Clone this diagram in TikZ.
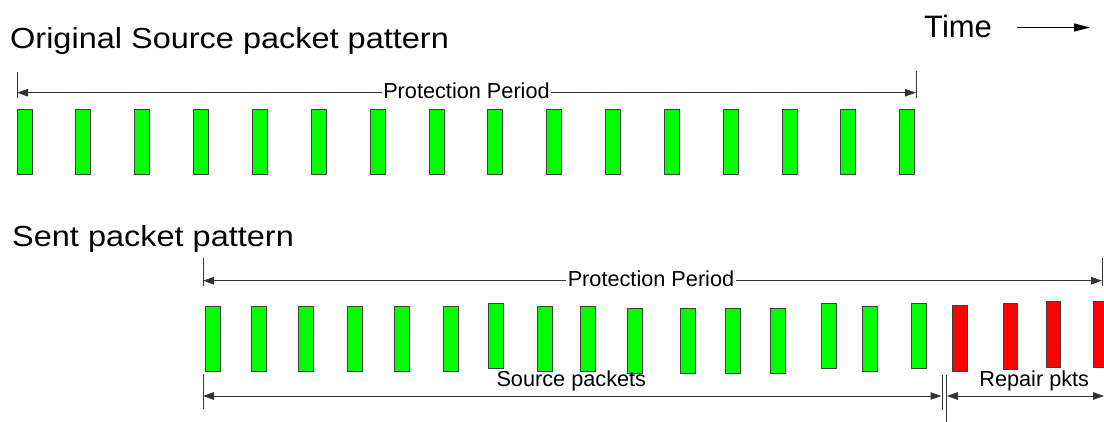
\documentclass[tikz,border=0pt]{standalone}
\usepackage{fontspec}
\setmainfont{Liberation Sans}
\usetikzlibrary{arrows.meta}
\begin{document}
\begin{tikzpicture}[x=1pt,y=-1pt,
  bar/.style={draw=black!75, line width=0.9pt, minimum width=15pt, minimum height=65pt, inner sep=0pt, outer sep=0pt, anchor=north west},
  gbar/.style={bar, fill=green},
  rbar/.style={bar, fill=red, minimum width=14.6pt, minimum height=65.6pt},
  tip/.tip={Triangle[length=11pt,width=7.5pt]},
  bigtip/.tip={Triangle[length=16pt,width=8pt]},
  dim/.style={draw=black!80, line width=1pt, tip-tip},
  tickline/.style={draw=black!80, line width=1pt},
  small/.style={font=\fontsize{21.7}{26}\selectfont, inner sep=0pt},
  lbl/.style={small, anchor=base, fill=white, inner xsep=1.5pt, inner ysep=0pt},
  big/.style={font=\fontsize{29}{34}\selectfont, inner sep=0pt, anchor=base west},
]
\clip (0,0) rectangle (1104,422);

% titles
\node[big] (title1) at (10,49) {\scalebox{1.12}[1]{Original Source packet pattern}};
\node[big] (title2) at (12,246.7) {\scalebox{1.12}[1]{Sent packet pattern}};

% time arrow
\node[anchor=base west, font=\fontsize{31}{36}\selectfont, inner sep=0pt] (time) at (924,37.7) {Time};
\coordinate (ta) at (1017,27.5);
\coordinate (tb) at (1090,27.5);
\draw[draw=black, line width=1.3pt, -bigtip] (ta) -- (tb);

% top row of source packets
\foreach \i in {0,...,15} {
  \node[gbar] (t\i) at ({17+\i*58.85},109) {};
}

% top protection period
\coordinate (ppL) at (17,92.7);
\coordinate (ppR) at (916,92.7);
\coordinate (ppLt) at (17,72);
\coordinate (ppLb) at (17,98);
\coordinate (ppRt) at (916,71);
\coordinate (ppRb) at (916,98);
\draw[tickline] (ppLt) -- (ppLb);
\draw[tickline] (ppRt) -- (ppRb);
\draw[dim] (ppL) -- (ppR);
\node[lbl] (pp1) at (466.5,99) {Protection Period};

% bottom row: sent packets
\foreach \x/\y [count=\k] in {205.3/306, 251.3/306, 298.3/306, 347.3/306, 394.3/306, 443.3/306, 488.3/303.3, 537.7/306, 580.7/306, 627.7/308.3, 680.7/308.3, 725.7/308.3, 770.7/308.3, 821.7/303.3, 862.3/306, 911.3/303.7} {
  \node[gbar] (g\k) at (\x,\y) {};
}
\foreach \x/\y [count=\k] in {952.7/305.7, 1003.3/303.7, 1046.3/301.7, 1093.3/301.7} {
  \node[rbar] (r\k) at (\x,\y) {};
}

% bottom protection period
\coordinate (bpL) at (203,280.7);
\coordinate (bpR) at (1102,280.7);
\coordinate (bpLt) at (203,258);
\coordinate (bpLb) at (203,286);
\coordinate (bpRt) at (1102,258);
\coordinate (bpRb) at (1102,286);
\draw[tickline] (bpLt) -- (bpLb);
\draw[tickline] (bpRt) -- (bpRb);
\draw[dim] (bpL) -- (bpR);
\node[lbl] (pp2) at (651,287) {Protection Period};

% source packets span
\coordinate (spL) at (203,396);
\coordinate (spR) at (941.5,396);
\coordinate (spLt) at (203,374);
\coordinate (spLb) at (203,409);
\coordinate (spRt) at (942,375);
\coordinate (spRb) at (942,410);
\draw[tickline] (spLt) -- (spLb);
\draw[tickline] (spRt) -- (spRb);
\draw[dim] (spL) -- (spR);
\node[small, anchor=base] (srcl) at (571.3,386) {Source packets};

% repair packets span
\coordinate (rpL) at (946.8,396);
\coordinate (rpR) at (1104,396);
\coordinate (rpLt) at (946.8,375);
\coordinate (rpLb) at (946.8,422);
\draw[tickline] (rpLt) -- (rpLb);
\draw[dim] (rpL) -- (rpR);
\node[small, anchor=base] (repl) at (1034.2,386) {Repair pkts};
\end{tikzpicture}
\end{document}
